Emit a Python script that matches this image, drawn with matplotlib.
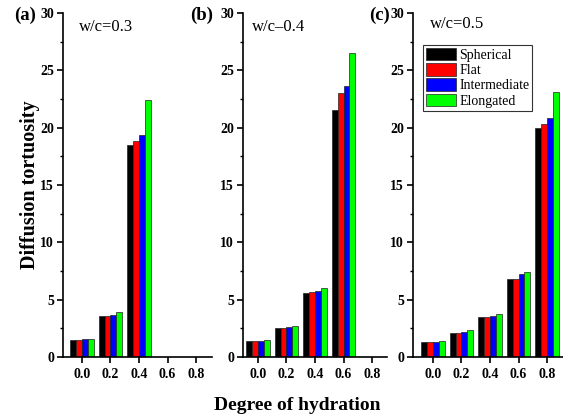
import numpy as np
import matplotlib
matplotlib.use("Agg")
import matplotlib.pyplot as plt
from matplotlib.ticker import MultipleLocator
from matplotlib.patches import Patch

plt.rcParams['font.family'] = ['Liberation Serif', 'DejaVu Serif']

# ---- data ----
hydration = [0.0, 0.2, 0.4, 0.6, 0.8]
tick_labels = ["0.0", "0.2", "0.4", "0.6", "0.8"]
series_names = ["Spherical", "Flat", "Intermediate", "Elongated"]
series_colors = ["#000000", "#FF0000", "#0000FF", "#00FF00"]
nan = np.nan

# w/c = 0.3
wc03_spherical    = [1.50, 3.55, 18.45, nan, nan]
wc03_flat         = [1.50, 3.60, 18.85, nan, nan]
wc03_intermediate = [1.55, 3.70, 19.40, nan, nan]
wc03_elongated    = [1.55, 3.95, 22.40, nan, nan]

# w/c = 0.4
wc04_spherical    = [1.40, 2.55, 5.60, 21.50, nan]
wc04_flat         = [1.40, 2.55, 5.65, 23.00, nan]
wc04_intermediate = [1.40, 2.62, 5.75, 23.60, nan]
wc04_elongated    = [1.48, 2.70, 6.05, 26.50, nan]

# w/c = 0.5
wc05_spherical    = [1.32, 2.10, 3.50, 6.80, 20.00]
wc05_flat         = [1.32, 2.10, 3.50, 6.80, 20.30]
wc05_intermediate = [1.32, 2.20, 3.60, 7.20, 20.80]
wc05_elongated    = [1.40, 2.35, 3.75, 7.45, 23.10]

panels = [
    ("(a)", "w/c=0.3", [wc03_spherical, wc03_flat, wc03_intermediate, wc03_elongated]),
    ("(b)", "w/c\u20130.4", [wc04_spherical, wc04_flat, wc04_intermediate, wc04_elongated]),
    ("(c)", "w/c=0.5", [wc05_spherical, wc05_flat, wc05_intermediate, wc05_elongated]),
]

# ---- layout (pixels) ----
W, H = 563, 417
fig = plt.figure(figsize=(W / 100, H / 100), dpi=100)
fig.patch.set_facecolor("white")

y_bottom_px, y_top_px = 357, 13
axes_px = [(63, 212, -0.133, 0.912), (243, 387, -0.105, 0.905), (413, 563, -0.14, 0.912)]
label_px = [(25, 15), (202, 15), (379, 15)]
wc_px = [(79, 27), (252, 27), (430, 24)]

bar_w = 0.041
offsets = [-1.5, -0.5, 0.5, 1.5]

for i, (plab, wctext, data) in enumerate(panels):
    l, r, xmin, xmax = axes_px[i]
    ax = fig.add_axes([l / W, (H - y_bottom_px) / H, (r - l) / W, (y_bottom_px - y_top_px) / H])
    ax.set_facecolor("none")
    x = np.array(hydration)
    for k, vals in enumerate(data):
        ax.bar(x + offsets[k] * bar_w, vals, width=bar_w, color=series_colors[k],
               edgecolor="#222222", linewidth=0.5, label=series_names[k])
    ax.set_xlim(xmin, xmax)
    ax.set_ylim(0, 30)
    ax.set_xticks(hydration)
    ax.set_xticklabels(tick_labels)
    ax.yaxis.set_major_locator(MultipleLocator(5))
    ax.yaxis.set_minor_locator(MultipleLocator(2.5))
    for s in ["top", "right"]:
        ax.spines[s].set_visible(False)
    for s in ["left", "bottom"]:
        ax.spines[s].set_linewidth(1.2)
    ax.tick_params(axis="both", which="major", direction="out", length=4, width=1.2,
                   labelsize=10, pad=2.5)
    ax.tick_params(axis="y", which="minor", direction="out", length=2.5, width=1.0)
    ax.tick_params(axis="x", which="major", pad=4)
    for t in ax.get_xticklabels() + ax.get_yticklabels():
        t.set_fontweight("bold")
    fig.text(label_px[i][0] / W, 1 - label_px[i][1] / H, plab, fontsize=13.5,
             fontweight="bold", ha="center", va="center")
    fig.text(wc_px[i][0] / W, 1 - wc_px[i][1] / H, wctext, fontsize=12,
             ha="left", va="center")
    if i == 2:
        handles = [Patch(facecolor=series_colors[k], edgecolor="#222222", linewidth=0.5)
                   for k in range(4)]
        leg = fig.legend(handles, series_names, loc="upper left",
                         bbox_to_anchor=(423 / W, 1 - 45 / H), fontsize=10,
                         frameon=True, fancybox=False, edgecolor="black",
                         handlelength=2.2, handleheight=1.0, labelspacing=0.1,
                         handletextpad=0.2, borderpad=0.2, borderaxespad=0)
        leg.get_frame().set_linewidth(0.8)

fig.text(30 / W, 1 - 185 / H, "Diffusion tortuosity", rotation=90, fontsize=14.5,
         fontweight="bold", ha="center", va="center")
fig.text(297 / W, 1 - 405 / H, "Degree of hydration", fontsize=14,
         fontweight="bold", ha="center", va="center")

fig.savefig("out.png", dpi=100, facecolor="white")
